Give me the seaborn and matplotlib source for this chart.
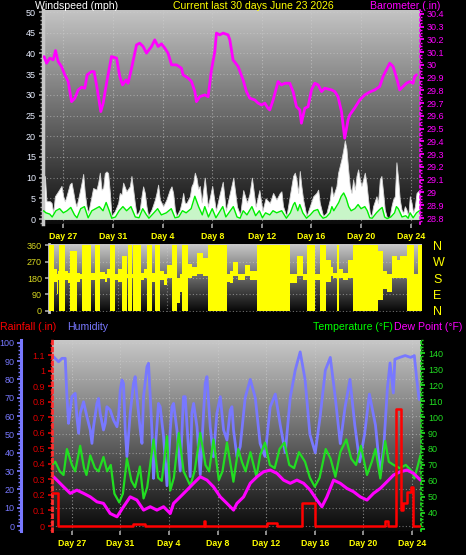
import numpy as np
import pandas as pd
import matplotlib
matplotlib.use("Agg")
import matplotlib.pyplot as plt
import seaborn as sns
from matplotlib.colors import LinearSegmentedColormap
from matplotlib.ticker import MultipleLocator, FuncFormatter

sns.set_theme(style="dark")
plt.rcParams['font.family'] = ['Liberation Sans', 'DejaVu Sans']

# ---------------- data ----------------
title_text = "Current last 30 days June 23 2026"
day_ticks = [0, 4, 8, 12, 16, 20, 24, 28]
day_labels = ["Day 27", "Day 31", "Day 4", "Day 8", "Day 12", "Day 16", "Day 20", "Day 24"]
x_range = (-1.64, 28.75)

# barometer (days from "Day 27", inHg)
baro_t = [-1.55, -1.35, -1.09, -0.82, -0.63, -0.42, -0.15, 0.12, 0.39, 0.66, 0.93, 1.19, 1.47, 1.73,
          1.92, 2.27, 2.48, 2.72, 3.02, 3.21, 3.48, 3.88, 4.29, 4.55, 4.77, 5.04, 5.22, 5.50, 5.90,
          6.16, 6.43, 6.70, 7.11, 7.37, 7.64, 7.91, 8.18, 8.44, 8.72, 9.12, 9.52, 9.65, 10.06, 10.33,
          10.60, 10.73, 11.00, 11.40, 11.67, 11.94, 12.21, 12.34, 12.61, 12.88, 13.28, 13.42, 13.68,
          14.09, 14.49, 14.76, 15.03, 15.43, 15.70, 15.97, 16.24, 16.50, 16.64, 16.91, 17.31, 17.58,
          17.85, 18.25, 18.52, 18.79, 19.06, 19.19, 19.46, 19.73, 20.00, 20.27, 20.54, 20.81, 21.07,
          21.61, 21.88, 22.14, 22.42, 22.68, 22.95, 23.09, 23.49, 23.89, 24.30, 24.70, 25.10, 25.50,
          25.77, 26.04, 26.31, 26.58, 26.71, 26.98, 27.11, 27.38, 27.66, 27.92, 28.19, 28.32, 28.46]
baro_v = [30.065, 30.013, 30.053, 30.039, 30.112, 30.026, 29.987, 29.922, 29.869, 29.712, 29.739,
          29.804, 29.825, 29.817, 29.922, 29.947, 29.947, 29.817, 29.634, 29.700, 29.856, 30.065,
          30.053, 29.908, 29.843, 29.882, 29.856, 29.974, 30.157, 30.170, 30.144, 30.092, 30.144,
          30.196, 30.144, 30.165, 30.131, 30.092, 30.000, 30.000, 29.974, 29.922, 29.896, 29.869,
          29.791, 29.712, 29.751, 29.765, 29.751, 29.961, 30.104, 30.249, 30.235, 30.249, 30.235,
          30.196, 30.039, 29.987, 29.882, 29.791, 29.739, 29.725, 29.700, 29.686, 29.700, 29.660,
          29.647, 29.725, 29.869, 29.843, 29.856, 29.856, 29.791, 29.673, 29.647, 29.543, 29.660,
          29.673, 29.804, 29.856, 29.843, 29.791, 29.817, 29.804, 29.791, 29.751, 29.634, 29.425,
          29.569, 29.608, 29.663, 29.725, 29.765, 29.788, 29.804, 29.830, 29.908, 29.961, 30.013,
          29.987, 29.947, 29.856, 29.804, 29.830, 29.856, 29.869, 29.856, 29.908, 29.922]

# wind gust (mph)
gust_t = [-1.63, -1.49, -1.36, -1.09, -0.95, -0.82, -0.68, -0.42, -0.15, -0.01, 0.12, 0.25, 0.52,
          0.66, 0.79, 0.93, 1.06, 1.33, 1.47, 1.60, 1.73, 1.87, 2.00, 2.27, 2.40, 2.67, 2.81, 2.94,
          3.08, 3.21, 3.34, 3.48, 3.61, 3.75, 3.88, 4.15, 4.42, 4.55, 4.69, 4.82, 5.09, 5.36, 5.49,
          5.63, 5.76, 5.90, 6.03, 6.16, 6.30, 6.43, 6.57, 6.70, 6.84, 7.11, 7.38, 7.51, 7.64, 7.78,
          8.05, 8.31, 8.58, 8.72, 8.85, 8.99, 9.12, 9.39, 9.52, 9.66, 9.79, 9.93, 10.20, 10.33, 10.47,
          10.60, 10.74, 10.87, 11.00, 11.15, 11.40, 11.65, 12.00, 12.30, 12.60, 12.85, 13.10, 13.40,
          13.70, 14.00, 14.25, 14.50, 14.80, 15.00, 15.20, 15.50, 15.80, 16.05, 16.30, 16.64, 16.91,
          17.18, 17.45, 17.58, 17.71, 17.98, 18.25, 18.52, 18.66, 18.79, 18.93, 19.06, 19.19, 19.33,
          19.60, 19.87, 20.14, 20.40, 20.54, 20.67, 20.94, 21.21, 21.48, 21.61, 21.75, 22.01, 22.15,
          22.28, 22.42, 22.55, 22.69, 22.82, 22.96, 23.09, 23.23, 23.36, 23.50, 23.63, 23.76, 23.90,
          24.03, 24.17, 24.30, 24.43, 24.57, 24.70, 24.84, 24.97, 25.24, 25.37, 25.51, 25.64, 25.78,
          25.91, 26.05, 26.18, 26.31, 26.45, 26.58, 26.72, 26.85, 26.99, 27.12, 27.26, 27.39, 27.53,
          27.66, 27.80, 27.93, 28.07, 28.20, 28.34, 28.47, 28.70]
gust_v = [6.7, 10.4, 4.3, 4.3, 3.9, 1.5, 5.5, 6.7, 8.0, 5.5, 4.3, 5.5, 8.4, 8.8, 6.7, 4.3, 3.1, 6.7,
          8.8, 10.9, 6.3, 3.1, 1.5, 5.5, 7.5, 7.1, 8.8, 11.2, 7.1, 7.5, 11.1, 11.5, 11.1, 6.3, 0.7,
          1.9, 3.9, 6.3, 5.9, 8.8, 6.7, 7.9, 10.4, 7.1, 3.9, 1.1, 1.5, 2.3, 5.5, 7.9, 6.3, 3.1, 0.7,
          2.3, 4.7, 6.3, 8.3, 4.7, 3.1, 4.7, 7.1, 7.9, 6.3, 2.3, 0.7, 2.3, 3.9, 6.3, 3.9, 3.9, 5.5,
          7.9, 8.8, 11.2, 9.8, 7.3, 8.0, 4.0, 10.0, 3.0, 8.0, 2.0, 6.0, 9.0, 2.0, 6.0, 10.0, 3.0, 1.0,
          7.0, 4.0, 6.0, 10.0, 3.0, 7.0, 2.0, 5.0, 3.9, 6.3, 4.7, 6.3, 6.7, 3.1, 0.7, 5.5, 10.4, 11.2,
          9.6, 6.3, 11.6, 7.9, 4.7, 0.7, 3.1, 5.5, 6.3, 7.1, 3.9, 0.7, 1.5, 4.7, 7.9, 5.5, 7.9, 11.2,
          12.8, 14.5, 16.5, 19.0, 17.0, 12.0, 8.0, 6.3, 9.6, 7.1, 10.4, 12.0, 9.6, 8.0, 9.6, 11.2,
          8.8, 4.7, 1.5, 0.7, 3.1, 5.5, 3.9, 9.6, 10.4, 6.3, 2.3, 0.7, 0.2, 0.7, 3.1, 4.7, 5.5, 13.7,
          9.6, 4.7, 2.3, 1.5, 3.1, 2.3, 0.7, 5.5, 3.9, 1.5, 3.1, 6.3, 7.0]

# average wind speed (mph)
speed_t = [-1.6, -1.4, -1.1, -0.9, -0.6, -0.3, 0.0, 0.3, 0.6, 0.9, 1.1, 1.4, 1.7, 2.0, 2.3, 2.6,
           2.9, 3.2, 3.45, 3.7, 3.9, 4.2, 4.5, 4.8, 5.1, 5.45, 5.8, 6.1, 6.4, 6.7, 6.9, 7.3, 7.6,
           7.9, 8.3, 8.7, 9.0, 9.3, 9.6, 9.9, 10.3, 10.6, 10.9, 11.2, 11.4, 11.7, 12.0, 12.3, 12.85,
           13.1, 13.7, 14.0, 14.25, 14.5, 14.8, 15.2, 15.5, 15.8, 16.05, 16.3, 16.64, 16.9, 17.2,
           17.6, 17.98, 18.3, 18.55, 18.66, 18.9, 19.06, 19.3, 19.6, 19.9, 20.2, 20.5, 20.7, 20.94,
           21.2, 21.5, 21.65, 21.8, 22.0, 22.2, 22.4, 22.6, 22.8, 23.0, 23.2, 23.5, 23.76, 24.0,
           24.3, 24.5, 24.7, 24.9, 25.24, 25.5, 25.7, 25.9, 26.1, 26.4, 26.7, 26.85, 27.0, 27.3,
           27.6, 27.8, 27.95, 28.2, 28.47, 28.7]
speed_v = [2, 1.5, 1.2, 0.5, 2, 2.5, 1.5, 2, 2.8, 1, 0.3, 2.5, 3, 0.3, 2, 2.5, 3, 2, 4, 2, 0.2,
           0.5, 2, 3, 2, 3, 0.5, 0.3, 2.5, 1, 0.2, 1.5, 2.5, 1, 1.5, 2.5, 0.3, 0.5, 2, 1.5, 2.5, 5.5,
           3, 1, 3, 0.5, 2.5, 0.3, 3, 0.5, 3, 0.5, 0.2, 2, 1, 3, 0.8, 2, 0.3, 1.5, 1, 2, 1.5, 2, 0.2,
           1.5, 3.5, 4, 2, 3.5, 1.5, 0.2, 1, 2, 2.3, 1, 0.2, 0.5, 1.5, 3, 2, 3, 4, 5.5, 6.3, 5, 3, 2,
           2.5, 3.5, 2.5, 3, 2, 0.3, 0.2, 1.5, 2.3, 2.8, 0.5, 0.1, 0.5, 1.5, 3, 2.5, 0.5, 0.8, 0.2,
           1.5, 0.3, 1.5, 2]

# wind direction range (deg), each value holds until the next time
dir_t = [-1.64, -1.23, -1.0, -0.9, -0.80, -0.34, -0.1, 0.07, 0.67, 0.85, 1.02, 1.76, 2.11, 2.52,
         2.9, 3.1, 3.33, 3.74, 4.0, 4.28, 4.69, 4.83, 5.10, 5.23, 5.83, 6.1, 6.32, 6.73, 7.00, 7.41,
         7.7, 8.0, 8.36, 8.77, 9.0, 9.17, 9.72, 10.0, 10.40, 10.9, 11.35, 12.84, 13.1, 13.38, 13.79,
         14.33, 14.74, 15.29, 18.00, 18.55, 19.09, 19.36, 20.04, 20.45, 20.94, 21.3, 21.53, 21.80,
         21.95, 22.3, 22.76, 23.16, 25.20, 25.61, 25.9, 26.29, 26.69, 26.97, 27.52, 28.06, 28.46,
         28.75]
dir_lo = [0, 160, 90, 170, 0, 170, 150, 0, 160, 175, 0, 170, 0, 175, 160, 180, 0, 170, 160, 0, 180,
          0, 180, 0, 170, 180, 0, 160, 0, 170, 140, 180, 0, 40, 100, 0, 180, 190, 200, 190, 0, 160,
          150, 190, 170, 190, 170, 0, 150, 190, 170, 0, 170, 0, 160, 190, 180, 0, 180, 170, 180, 0, 60,
          120, 100, 180, 180, 180, 0, 0, 0, 0]
dir_hi = [360, 230, 200, 220, 360, 220, 210, 330, 210, 200, 360, 210, 360, 215, 200, 230, 360, 200,
          230, 300, 200, 360, 200, 360, 210, 230, 360, 210, 360, 220, 200, 250, 360, 180, 200, 360,
          260, 240, 320, 290, 360, 200, 220, 270, 200, 250, 220, 360, 200, 300, 200, 360, 200, 360,
          280, 240, 210, 360, 230, 210, 280, 360, 330, 220, 200, 300, 280, 300, 360, 200, 360, 360]

# humidity (%)
hum_t = [-1.52, -1.10, -0.82, -0.55, -0.41, -0.28, -0.14, 0.00, 0.27, 0.41, 0.55, 0.68, 0.96, 1.24,
         1.51, 1.65, 1.78, 2.06, 2.19, 2.33, 2.60, 2.74, 2.88, 3.15, 3.43, 3.71, 3.84, 3.98, 4.12,
         4.25, 4.39, 4.53, 4.80, 5.07, 5.21, 5.35, 5.63, 5.77, 5.90, 6.18, 6.31, 6.45, 6.59, 6.72,
         6.86, 7.13, 7.27, 7.55, 7.83, 8.10, 8.24, 8.37, 8.65, 8.92, 9.19, 9.33, 9.47, 9.74, 9.88,
         10.02, 10.30, 10.57, 10.84, 10.98, 11.12, 11.39, 11.66, 11.94, 12.22, 12.49, 12.77, 13.04,
         13.18, 13.31, 13.59, 13.86, 14.27, 14.69, 15.10, 15.50, 15.90, 16.33, 16.75, 17.16, 17.57,
         17.98, 18.39, 18.80, 19.20, 19.60, 20.04, 20.45, 20.87, 21.28, 21.69, 22.10, 22.50, 22.90,
         23.30, 23.70, 24.10, 24.50, 25.00, 25.40, 25.70, 25.98, 26.20, 26.47, 26.60, 27.00, 27.45,
         27.90, 28.20, 28.40, 28.60]
hum_v = [92.4, 89.6, 91.5, 91.5, 70.6, 56.0, 63.3, 70.6, 72.4, 59.6, 50.6, 61.5, 67.8, 59.6, 52.4,
         45.1, 54.2, 66.9, 69.6, 61.5, 52.4, 56.0, 65.1, 63.3, 57.8, 54.2, 59.6, 74.2, 79.7, 77.8,
         52.4, 37.8, 61.5, 77.8, 81.5, 70.6, 52.4, 45.1, 70.6, 86.9, 88.8, 70.6, 52.4, 26.0, 41.5,
         66.9, 65.1, 48.7, 22.0, 52.4, 65.1, 66.9, 52.4, 30.0, 70.6, 70.6, 56.0, 27.0, 61.5, 66.9,
         54.2, 28.0, 61.5, 77.8, 81.5, 54.2, 37.8, 61.5, 70.6, 52.4, 46.9, 63.3, 65.1, 52.4, 37.8,
         43.3, 70.0, 80.0, 70.0, 45.0, 38.0, 65.0, 72.0, 55.0, 40.0, 70.0, 85.0, 95.0, 80.0, 50.0,
         40.0, 60.0, 85.0, 92.0, 70.0, 45.0, 65.0, 80.0, 55.0, 35.0, 50.0, 72.0, 55.0, 28.0, 45.0,
         75.0, 89.0, 72.6, 91.0, 92.0, 93.0, 92.0, 93.0, 80.0, 69.0]

# temperature (F)
temp_t = [-1.62, -1.37, -1.0, -0.69, -0.41, 0.0, 0.27, 0.68, 1.0, 1.2, 1.51, 1.9, 2.19, 2.6, 2.9,
          3.2, 3.5, 3.9, 4.2, 4.53, 4.9, 5.2, 5.6, 5.9, 6.2, 6.72, 7.1, 7.4, 7.83, 8.1, 8.4, 8.8, 9.2,
          9.75, 10.1, 10.57, 11.0, 11.3, 11.66, 12.1, 12.4, 12.77, 13.3, 13.7, 14.0, 14.3, 14.7, 15.2,
          15.5, 15.9, 16.3, 16.7, 17.1, 17.5, 17.9, 18.3, 18.7, 19.2, 19.6, 20.0, 20.4, 20.9, 21.3,
          21.7, 22.1, 22.6, 23.0, 23.4, 23.8, 24.3, 24.7, 25.0, 25.4, 25.8, 26.1, 26.5, 27.0, 27.5,
          28.0, 28.2, 28.5, 28.7]
temp_v = [70, 72, 66, 63.7, 80, 70, 66, 82, 68, 63.7, 76, 68, 66, 75, 66, 70, 52, 46.5, 52, 74, 60,
          56, 69, 49, 56, 86, 62, 60, 88, 54, 62, 90, 66, 57, 66, 90, 70, 66, 86, 60.5, 66, 84, 59.5,
          80, 72, 66, 78, 62.6, 76, 84, 70, 68, 80, 84, 70, 68, 78, 72, 62, 56.3, 62, 80, 74, 62.6,
          78, 86, 74, 70, 82, 63.7, 72, 80, 61.5, 85, 72, 70, 68, 70, 66, 61.5, 70, 76]

# dew point (F)
dew_t = [-1.51, -0.69, -0.14, 0.41, 0.96, 1.51, 2.06, 2.60, 3.15, 3.71, 4.25, 4.80, 5.35, 5.90,
         6.45, 7.00, 7.55, 8.10, 8.37, 8.92, 9.47, 10.02, 10.57, 11.12, 11.66, 12.22, 12.77, 13.31,
         13.59, 14.14, 14.69, 15.24, 15.78, 16.33, 16.89, 17.43, 17.98, 18.53, 19.08, 19.63, 20.18,
         20.59, 21.00, 21.55, 22.10, 22.65, 23.20, 23.75, 24.30, 24.84, 25.40, 25.95, 26.49, 27.04,
         27.60, 28.14, 28.42, 28.70]
dew_v = [62.6, 56.3, 52.2, 54.2, 52.2, 50.0, 46.9, 45.9, 39.6, 37.5, 43.8, 50.0, 48.0, 41.7, 43.8,
         41.7, 43.8, 39.6, 45.9, 50.0, 54.2, 58.5, 62.6, 60.5, 56.3, 50.0, 45.9, 41.7, 45.9, 50.0,
         58.5, 62.6, 65.7, 66.8, 64.7, 60.5, 58.5, 60.5, 58.5, 54.2, 48.0, 43.8, 50.0, 60.5, 58.5,
         55.3, 53.2, 50.0, 48.0, 52.2, 55.3, 59.5, 63.7, 65.7, 66.8, 64.7, 62.6, 60.5]

# rainfall (in), step series
rain_t = [-1.64, -1.13, 5.05, 6.05, 10.85, 10.95, 16.09, 16.90, 18.97, 20.04, 25.80, 26.07, 26.70,
          27.10, 27.30, 27.60, 27.90, 28.10, 28.75]
rain_v = [0.21, 0.0, 0.015, 0.0, 0.03, 0.0, 0.02, 0.0, 0.15, 0.0, 0.03, 0.0, 0.75, 0.10, 0.15, 0.22,
          0.25, 0.0, 0.0]

compass = ["N", "W", "S", "E", "N"]
compass_deg = [360, 270, 180, 90, 0]

# ---------------- helpers ----------------
W, H = 466, 555
fig = plt.figure(figsize=(W / 100, H / 100), dpi=100, facecolor="black")


def box(x0, y0, x1, y1):
    return [x0 / W, 1 - y1 / H, (x1 - x0) / W, (y1 - y0) / H]


def gradient(ax, top, bottom):
    cmap = LinearSegmentedColormap.from_list("g", [bottom, top])
    ax.imshow(np.linspace(0, 1, 256).reshape(-1, 1), extent=[0, 1, 0, 1], transform=ax.transAxes,
              cmap=cmap, aspect="auto", origin="lower", zorder=0)


def style_x(ax, labels=True):
    ax.set_xlim(*x_range)
    ax.set_xticks(day_ticks)
    if labels:
        ax.set_xticklabels(day_labels, color="#ffff00", fontsize=6.3, fontweight="bold")
    else:
        ax.set_xticklabels([])
    ax.tick_params(axis="x", length=3, color="#a0a0a0", pad=3, bottom=True)
    ax.xaxis.grid(True, color="#d0d0d0", linestyle=(0, (1, 2)), linewidth=0.8, alpha=0.6)


fmt_g = FuncFormatter(lambda v, p: f"{v:g}")

# ---------------- top panel ----------------
ax1 = fig.add_axes(box(43, 10, 420, 224))
ax1.set_facecolor("black")
gradient(ax1, "#c4c4c4", "#0c0c0c")
gust = pd.DataFrame({"t": gust_t, "g": gust_v})
speed = pd.DataFrame({"t": speed_t, "s": speed_v})
ax1.fill_between(gust["t"], 0, gust["g"], color="white", edgecolor="#d4d4d4", linewidth=0.6,
                 zorder=2)
ax1.fill_between(speed["t"], 0, speed["s"], color="#c8f5c8", linewidth=0, zorder=3)
sns.lineplot(data=speed, x="t", y="s", ax=ax1, color="#00ee00", linewidth=1.0, zorder=4)
ax1.set_ylim(-1.2, 50.5)
ax1.yaxis.set_major_locator(MultipleLocator(5))
ax1.yaxis.set_minor_locator(MultipleLocator(1))
ax1.yaxis.set_major_formatter(fmt_g)
ax1.tick_params(axis="y", which="major", labelsize=6.5, labelcolor="#e8eeff", color="#a0a0a0",
                length=3, pad=2, left=True)
ax1.tick_params(axis="y", which="minor", color="#a0a0a0", length=2, left=True)
ax1.yaxis.grid(True, color="#d0d0d0", linestyle=(0, (1, 2)), linewidth=0.8, alpha=0.5)
style_x(ax1)
ax1.set_xlabel("")
ax1.set_ylabel("")
for s in ["top", "right", "bottom"]:
    ax1.spines[s].set_visible(False)
ax1.spines["left"].set_color("#c8c8c8")
ax1.spines["left"].set_linewidth(2.5)

ax1b = ax1.twinx()
baro = pd.DataFrame({"t": baro_t, "p": baro_v})
sns.lineplot(data=baro, x="t", y="p", ax=ax1b, color="#ff00ff", linewidth=2.0, zorder=5)
ax1b.set_ylim(28.753, 30.43)
ax1b.yaxis.set_major_locator(MultipleLocator(0.1))
ax1b.yaxis.set_minor_locator(MultipleLocator(0.025))
ax1b.yaxis.set_major_formatter(fmt_g)
ax1b.tick_params(axis="y", which="major", labelsize=6.5, labelcolor="#ff00ff", color="#ff00ff",
                 length=3, pad=2, right=True)
ax1b.tick_params(axis="y", which="minor", color="#ff00ff", length=1.5, right=True)
ax1b.set_xlim(*x_range)
ax1b.set_xlabel("")
ax1b.set_ylabel("")
for s in ["top", "left", "bottom"]:
    ax1b.spines[s].set_visible(False)
ax1b.spines["right"].set_color("#ff00ff")
ax1b.spines["right"].set_linestyle((0, (1, 2)))

# ---------------- middle panel (wind direction) ----------------
ax2 = fig.add_axes(box(49, 244, 422, 312))
ax2.set_facecolor("black")
gradient(ax2, "#c8c8c8", "#050505")
dirs = pd.DataFrame({"t": dir_t, "lo": dir_lo, "hi": dir_hi})
ax2.fill_between(dirs["t"], dirs["lo"], dirs["hi"], color="#ffff00", linewidth=0, step="post",
                 zorder=3)
ax2.set_xlim(*x_range)
ax2.set_xticks(day_ticks)
ax2.set_xticklabels([])
ax2.tick_params(axis="x", length=0)
ax2.xaxis.grid(True, color="#d0d0d0", linestyle=(0, (1, 2)), linewidth=0.8, alpha=0.5)
ax2.set_ylim(-8, 368)
ax2.set_yticks([0, 90, 180, 270, 360])
ax2.tick_params(axis="y", labelsize=6.5, labelcolor="#d8d820", color="#a0a0a0", length=3, pad=2,
                left=True)
ax2.yaxis.grid(True, color="#d0d0d0", linestyle=(0, (1, 2)), linewidth=0.8, alpha=0.5)
for s in ["top", "right", "bottom"]:
    ax2.spines[s].set_visible(False)
ax2.spines["left"].set_color("#c8c8c8")
ax2.spines["left"].set_linewidth(2.0)
ax2c = ax2.twinx()
ax2c.set_ylim(-8, 368)
ax2c.set_yticks(compass_deg)
ax2c.set_yticklabels(compass)
ax2c.tick_params(axis="y", labelsize=9, labelcolor="#ffff00", length=0, pad=8)
for s in ax2c.spines.values():
    s.set_visible(False)

# ---------------- bottom panel ----------------
ax3 = fig.add_axes(box(52, 340, 421, 531))
ax3.set_facecolor("black")
gradient(ax3, "#c8c8c8", "#080808")
hum = pd.DataFrame({"t": hum_t, "h": hum_v})
sns.lineplot(data=hum, x="t", y="h", ax=ax3, color="#7878ff", linewidth=2.0, zorder=3)
ax3.set_ylim(-2.7, 101.5)
ax3.yaxis.set_major_locator(MultipleLocator(10))
ax3.yaxis.set_minor_locator(MultipleLocator(2))
ax3.tick_params(axis="y", which="major", labelsize=6.5, labelcolor="#7878ff", color="#7878ff",
                length=3, pad=2, left=True)
ax3.tick_params(axis="y", which="minor", color="#7878ff", length=2, left=True)
ax3.spines["left"].set_position(("outward", 22))
ax3.spines["left"].set_color("#7878ff")
ax3.spines["left"].set_linewidth(2.2)
for s in ["top", "right", "bottom"]:
    ax3.spines[s].set_visible(False)
ax3.yaxis.grid(True, color="#d0d0d0", linestyle=(0, (1, 2)), linewidth=0.8, alpha=0.5)
style_x(ax3)
ax3.set_xlabel("")
ax3.set_ylabel("")

ax3t = ax3.twinx()
temp = pd.DataFrame({"t": temp_t, "v": temp_v})
dew = pd.DataFrame({"t": dew_t, "v": dew_v})
sns.lineplot(data=temp, x="t", y="v", ax=ax3t, color="#22dd22", linewidth=1.6, zorder=3)
sns.lineplot(data=dew, x="t", y="v", ax=ax3t, color="#ff00ff", linewidth=2.2, zorder=4)
ax3t.set_ylim(28.6, 148.3)
ax3t.yaxis.set_major_locator(MultipleLocator(10))
ax3t.yaxis.set_minor_locator(MultipleLocator(2))
ax3t.yaxis.set_major_formatter(FuncFormatter(lambda v, p: f"{v:g}" if v >= 40 else ""))
ax3t.tick_params(axis="y", which="major", labelsize=6.5, labelcolor="#22dd22", color="#22dd22",
                 length=3, pad=2)
ax3t.tick_params(axis="y", which="minor", color="#22dd22", length=1.5)
ax3t.set_xlim(*x_range)
ax3t.set_xlabel("")
ax3t.set_ylabel("")
for s in ["top", "left", "bottom"]:
    ax3t.spines[s].set_visible(False)
ax3t.spines["right"].set_color("#22dd22")
ax3t.spines["right"].set_linestyle((0, (1, 2)))

ax3r = ax3.twinx()
rain = pd.DataFrame({"t": rain_t, "r": rain_v})
sns.lineplot(data=rain, x="t", y="r", ax=ax3r, color="#ff0000", linewidth=1.8, zorder=5,
             drawstyle="steps-post")
ax3r.set_ylim(-0.032, 1.197)
ax3r.yaxis.set_ticks_position("left")
ax3r.yaxis.set_label_position("left")
ax3r.yaxis.set_major_locator(MultipleLocator(0.1))
ax3r.yaxis.set_minor_locator(MultipleLocator(0.025))
ax3r.yaxis.set_major_formatter(fmt_g)
ax3r.tick_params(axis="y", which="major", labelsize=6.5, labelcolor="#dd0000", color="#dd0000",
                 length=3, pad=2)
ax3r.tick_params(axis="y", which="minor", color="#dd0000", length=1.5)
ax3r.set_xlim(*x_range)
ax3r.set_xlabel("")
ax3r.set_ylabel("")
for s in ["top", "right", "bottom"]:
    ax3r.spines[s].set_visible(False)
ax3r.spines["left"].set_visible(True)
ax3r.spines["left"].set_color("#ff3030")
ax3r.spines["left"].set_linestyle((0, (1, 1.5)))
ax3r.spines["left"].set_linewidth(2)

# ---------------- titles ----------------
fs = 7.6
fig.text(35 / W, 1 - 6 / H, "Windspeed (mph)", color="white", fontsize=fs, va="center")
fig.text(253 / W, 1 - 6 / H, title_text, color="#ffff00", fontsize=fs, va="center", ha="center")
fig.text(440 / W, 1 - 6 / H, "Barometer (.in)", color="#ff00ff", fontsize=fs, va="center",
         ha="right")
fig.text(0 / W, 1 - 327 / H, "Rainfall (.in)", color="#ff0000", fontsize=fs, va="center")
fig.text(67 / W, 1 - 327 / H, "Humidity", color="#7878ff", fontsize=fs, va="center")
fig.text(313 / W, 1 - 327 / H, "Temperature (°F)", color="#00ff00", fontsize=fs, va="center")
fig.text(462 / W, 1 - 327 / H, "Dew Point (°F)", color="#ff00ff", fontsize=fs, va="center",
         ha="right")

fig.savefig("out.png", dpi=100, facecolor="black")
